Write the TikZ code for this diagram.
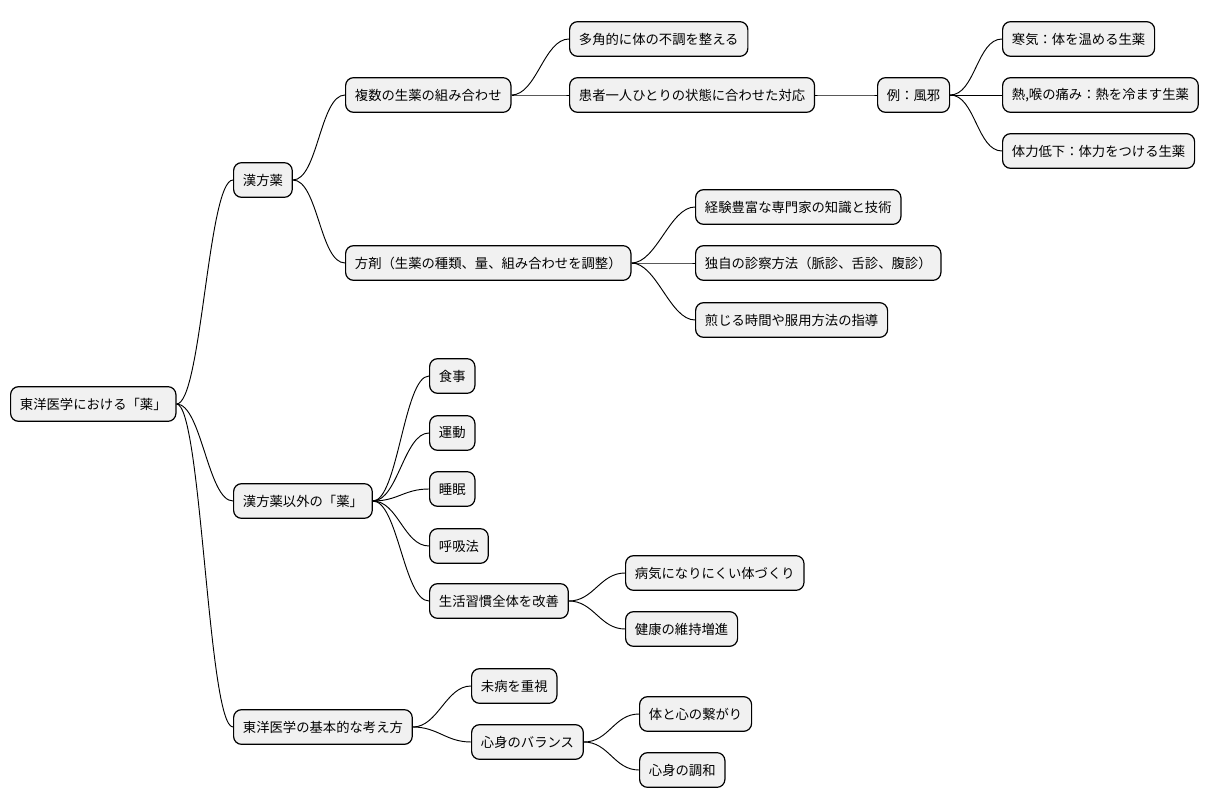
\documentclass[tikz,border=0pt]{standalone}
\usepackage{fontspec}
\setmainfont{Noto Sans CJK JP}
\definecolor{boxfill}{HTML}{F1F1F1}
\tikzset{
  box/.style={draw=black, fill=boxfill, rounded corners=6pt, line width=0.9pt,
    anchor=west, minimum height=26pt, inner xsep=7pt, font=\fontsize{10pt}{12pt}\selectfont},
  link/.style={draw=black, line width=0.7pt}
}
\begin{document}
\begin{tikzpicture}[x=0.75pt, y=-0.75pt]
\useasboundingbox (0,0) rectangle (1221,809);
% root and branches
\node[box] (root) at (10,404) {東洋医学における「薬」};
\node[box] (kampo) at (233,180) {漢方薬};
\node[box] (multi) at (345,95) {複数の生薬の組み合わせ};
\node[box] (takaku) at (569,39) {多角的に体の不調を整える};
\node[box] (kanja) at (569,95) {患者一人ひとりの状態に合わせた対応};
\node[box] (kaze) at (877,95) {例：風邪};
\node[box] (samuke) at (1002,39) {寒気：体を温める生薬};
\node[box] (netsu) at (1002,95) {熱,喉の痛み：熱を冷ます生薬};
\node[box] (tairyoku) at (1002,151) {体力低下：体力をつける生薬};
\node[box] (hozai) at (345,263) {方剤（生薬の種類、量、組み合わせを調整）};
\node[box] (keiken) at (695,207) {経験豊富な専門家の知識と技術};
\node[box] (shinsatsu) at (695,263) {独自の診察方法（脈診、舌診、腹診）};
\node[box] (senjiru) at (695,320) {煎じる時間や服用方法の指導};
\node[box] (igai) at (233,501) {漢方薬以外の「薬」};
\node[box] (shokuji) at (429,376) {食事};
\node[box] (undo) at (429,433) {運動};
\node[box] (suimin) at (429,489) {睡眠};
\node[box] (kokyu) at (429,546) {呼吸法};
\node[box] (seikatsu) at (429,601) {生活習慣全体を改善};
\node[box] (byoki) at (625,573) {病気になりにくい体づくり};
\node[box] (kenko) at (625,629) {健康の維持増進};
\node[box] (kangae) at (233,727) {東洋医学の基本的な考え方};
\node[box] (mibyo) at (471,686) {未病を重視};
\node[box] (balance) at (471,742) {心身のバランス};
\node[box] (tsunagari) at (639,714) {体と心の繋がり};
\node[box] (chowa) at (639,770) {心身の調和};
% connectors
\foreach \a/\b in {root/kampo, root/igai, root/kangae, kampo/multi, kampo/hozai,
  multi/takaku, multi/kanja, kanja/kaze, kaze/samuke, kaze/netsu, kaze/tairyoku,
  hozai/keiken, hozai/shinsatsu, hozai/senjiru, igai/shokuji, igai/undo, igai/suimin,
  igai/kokyu, igai/seikatsu, seikatsu/byoki, seikatsu/kenko, kangae/mibyo,
  kangae/balance, balance/tsunagari, balance/chowa}
  \draw[link] (\a.east) .. controls +(25,0) and +(-25,0) .. (\b.west);
\end{tikzpicture}
\end{document}
